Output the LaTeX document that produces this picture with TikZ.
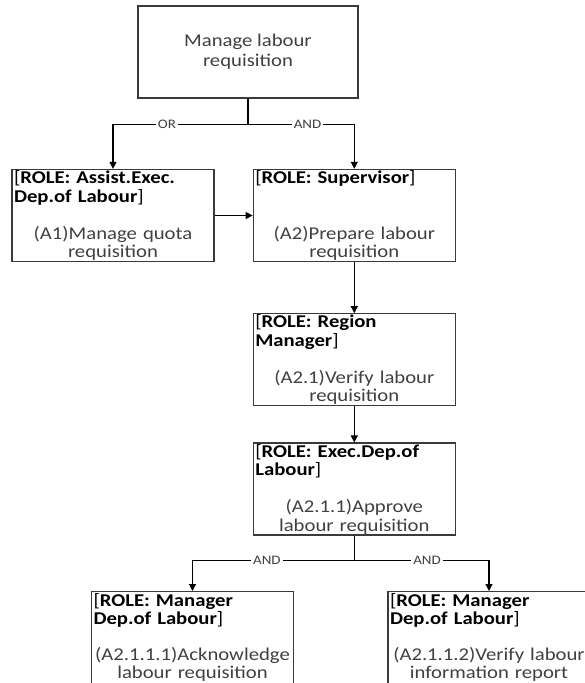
\documentclass[tikz,border=0pt]{standalone}
\usepackage{fontspec}
\setmainfont{Carlito}[FakeStretch=1.15]
\usepackage{tikz}
\usetikzlibrary{arrows.meta,positioning}
\definecolor{txtgray}{HTML}{404040}
\definecolor{boxline}{HTML}{3A3A3A}

\begin{document}
\begin{tikzpicture}[x=1pt,y=-1pt,>={Triangle[length=7pt,width=7pt]},
		goal/.style={rectangle,draw=boxline,line width=1.3pt,minimum width=220pt,minimum height=92pt,align=center,text=txtgray,font=\fontsize{18}{20}\selectfont},
		act/.style={rectangle,draw=boxline,line width=1.3pt,text width=198pt,inner xsep=2pt,inner ysep=0pt,minimum height=92pt,text=txtgray,font=\fontsize{18}{18.5}\selectfont},
		link/.style={line width=1.1pt,->},
		gate/.style={fill=white,inner xsep=2pt,inner ysep=1pt,text=txtgray,font=\fontsize{13}{13}\selectfont}]

	\useasboundingbox (0,0) rectangle (585,683);

	\node[goal] (goal) at (248,52) {Manage labour\\requisition};
	\node[act] (quota) at (113,215.5) {{\color{black}[\textbf{ROLE: Assist.Exec.}\par\textbf{Dep.of Labour}]}\par\vspace{18.5pt}
		\centering (A1)Manage quota\par requisition\par};
	\node[act] (sup) [right=38pt of quota] {{\color{black}[\textbf{ROLE: Supervisor}]}\par\vspace{37pt}
		\centering (A2)Prepare labour\par requisition\par}
		edge [link,<-] (quota);
	\node[act] (region) [below=51pt of sup] {{\color{black}[\textbf{ROLE: Region}\par\textbf{Manager}]}\par\vspace{18.5pt}
		\centering (A2.1)Verify labour\par requisition\par}
		edge [link,<-] (sup);
	\node[act] (exec) [below=36pt of region] {{\color{black}[\textbf{ROLE: Exec.Dep.of}\par\textbf{Labour}]}\par\vspace{18.5pt}
		\centering (A2.1.1)Approve\par labour requisition\par}
		edge [link,<-] (region);
	\node[act,anchor=north] (ack) at (192.5,591) {{\color{black}[\textbf{ROLE: Manager}\par\textbf{Dep.of Labour}]}\par\vspace{17pt}
		\centering (A2.1.1.1)Acknowledge\par labour requisition\par};
	\node[act,anchor=north] (report) at (489,591) {{\color{black}[\textbf{ROLE: Manager}\par\textbf{Dep.of Labour}]}\par\vspace{17pt}
		\centering (A2.1.1.2)Verify labour\par information report\par}; % cut off by the page edge

	\draw[line width=1.1pt] (goal.south) -- ++(0,26) coordinate (split);
	\draw[link] (split) -| node[gate,pos=0.3] {OR} (quota.north);
	\draw[link] (split) -| node[gate,pos=0.28] {AND} (sup.north);

	\draw[line width=1.1pt] (exec.south) -- ++(0,25) coordinate (split2);
	\draw[link] (split2) -| node[gate,pos=0.27] {AND} (ack.north);
	\draw[link] (split2) -| node[gate,pos=0.27] {AND} (report.north);
\end{tikzpicture}
\end{document}
